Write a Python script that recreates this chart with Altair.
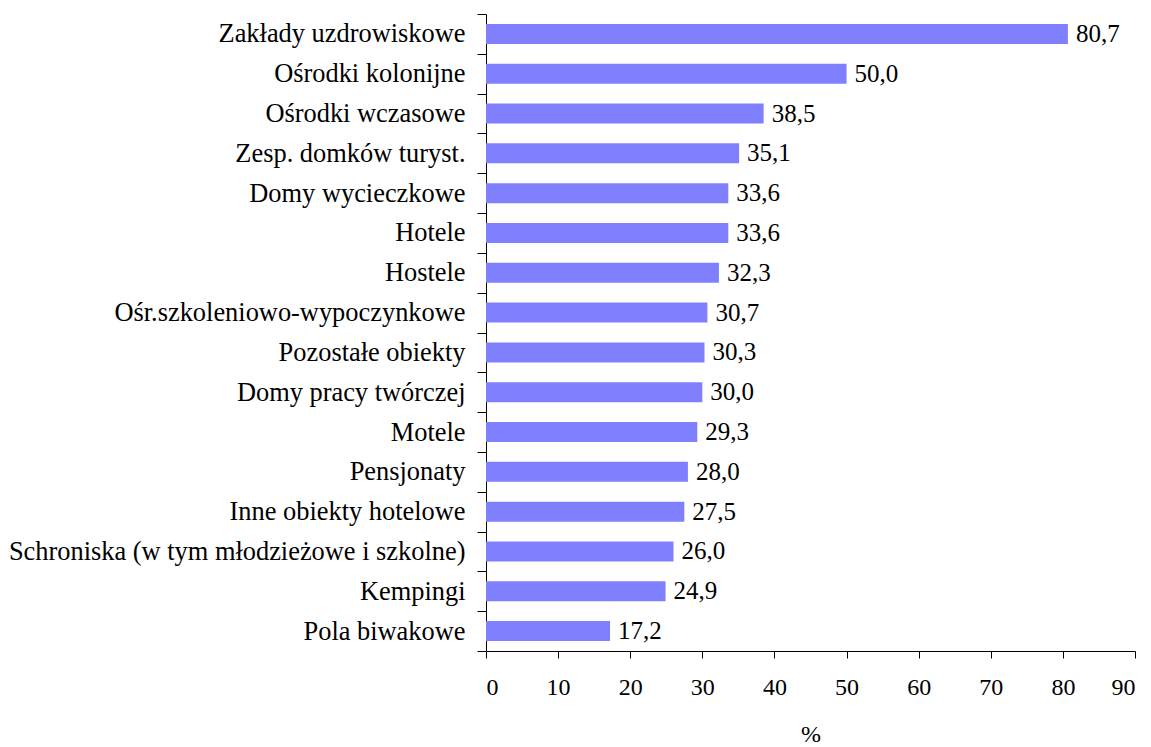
import altair as alt
import pandas as pd

categories = [
    "Zakłady uzdrowiskowe",
    "Ośrodki kolonijne",
    "Ośrodki wczasowe",
    "Zesp. domków turyst.",
    "Domy wycieczkowe",
    "Hotele",
    "Hostele",
    "Ośr.szkoleniowo-wypoczynkowe",
    "Pozostałe obiekty",
    "Domy pracy twórczej",
    "Motele",
    "Pensjonaty",
    "Inne obiekty hotelowe",
    "Schroniska (w tym młodzieżowe i szkolne)",
    "Kempingi",
    "Pola biwakowe",
]
values = [80.7, 50.0, 38.5, 35.1, 33.6, 33.6, 32.3, 30.7, 30.3, 30.0, 29.3, 28.0, 27.5, 26.0, 24.9, 17.2]
x_ticks = [0, 10, 20, 30, 40, 50, 60, 70, 80, 90]

df = pd.DataFrame({"cat": categories, "v": values})

FONT = "Liberation Serif"

y_scale = alt.Scale(paddingInner=0, paddingOuter=0)
x_scale = alt.Scale(domain=[0, 90], nice=False)

y_enc = alt.Y(
    "cat:N",
    sort=None,
    title=None,
    scale=y_scale,
    axis=alt.Axis(
        orient="left",
        tickBand="extent",
        tickSize=9,
        tickColor="#000000",
        domainColor="#000000",
        labelFont=FONT,
        labelFontSize=26.4,
        labelColor="#000000",
        labelPadding=12,
        labelLimit=600,
    ),
)
x_enc = alt.X(
    "v:Q",
    title="%",
    scale=x_scale,
    axis=alt.Axis(
        orient="bottom",
        values=x_ticks,
        grid=False,
        tickSize=7,
        tickColor="#000000",
        domainColor="#000000",
        labelFont=FONT,
        labelFontSize=24,
        labelColor="#000000",
        labelPadding=17,
        titleFont=FONT,
        titleFontSize=24,
        titleFontWeight="normal",
        titleColor="#000000",
        titlePadding=23,
    ),
)

bars = alt.Chart(df).mark_bar(color="#8080FF", size=20).encode(x=x_enc, y=y_enc)

labels = (
    alt.Chart(df)
    .transform_calculate(lab="replace(format(datum.v, '.1f'), '.', ',')")
    .mark_text(align="left", baseline="middle", dx=8, font=FONT, fontSize=25, color="#000000")
    .encode(
        x=alt.X("v:Q", scale=x_scale, axis=None),
        y=alt.Y("cat:N", sort=None, scale=y_scale, axis=None),
        text="lab:N",
    )
)

chart = (
    alt.layer(bars, labels)
    .resolve_axis(x="independent", y="independent")
    .properties(
        width=649,
        height=637,
        autosize=alt.AutoSizeParams(type="none"),
        padding={"left": 478, "top": 6, "right": 8, "bottom": 96},
    )
    .configure_view(strokeWidth=0, stroke="transparent")
)

chart.save("out.html", embed_options={"renderer": "svg", "actions": False})
